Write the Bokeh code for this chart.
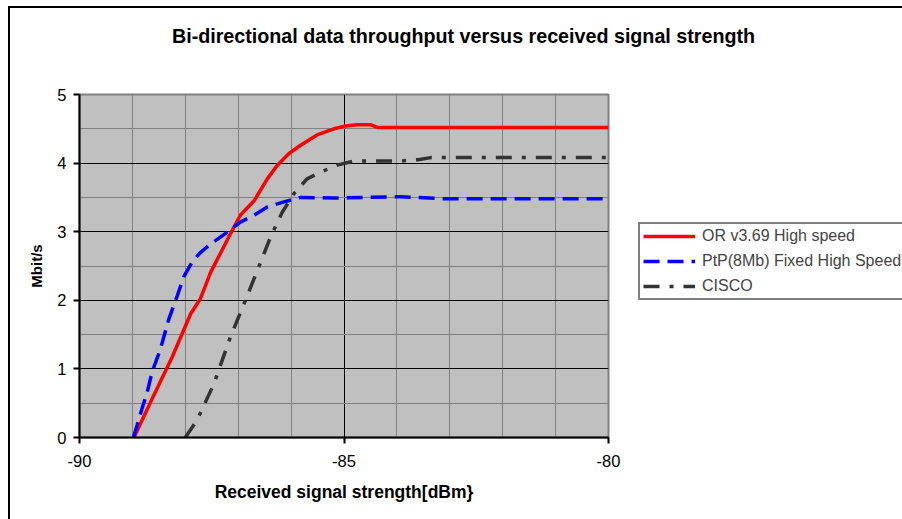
from bokeh.plotting import figure
from bokeh.models import (Legend, LegendItem, FixedTicker, Range1d, Label,
                          CustomJSTickFormatter)
from bokeh.layouts import row, column
from bokeh.embed import file_html
from bokeh.resources import INLINE

# ---- data ----
or_x = [-88.97, -88.66, -88.25, -87.90, -87.71, -87.52, -87.18, -86.96, -86.70,
        -86.45, -86.26, -86.04, -85.82, -85.51, -85.19, -84.97, -84.75, -84.50,
        -84.37, -80.0]
or_y = [0.0, 0.51, 1.17, 1.80, 2.03, 2.41, 2.92, 3.24, 3.45, 3.77, 3.97, 4.14,
        4.26, 4.41, 4.50, 4.54, 4.56, 4.56, 4.52, 4.52]

ptp_x = [-88.98, -88.81, -88.72, -88.63, -88.47, -88.31, -88.15, -88.03, -87.87,
         -87.71, -87.52, -87.21, -86.96, -86.70, -86.45, -86.20, -85.82, -85.19,
         -83.93, -83.12, -80.0]
ptp_y = [0.0, 0.44, 0.66, 0.95, 1.29, 1.73, 2.07, 2.34, 2.56, 2.70, 2.82, 2.99,
         3.14, 3.24, 3.36, 3.42, 3.50, 3.49, 3.51, 3.48, 3.48]

cisco_x = [-88.0, -87.78, -87.46, -87.15, -86.89, -86.64, -86.39, -86.17, -85.95,
           -85.70, -85.44, -85.13, -84.81, -83.93, -83.6, -83.36, -80.0]
cisco_y = [0.0, 0.25, 0.78, 1.46, 1.95, 2.43, 2.92, 3.28, 3.55, 3.77, 3.87, 3.97,
           4.03, 4.03, 4.05, 4.08, 4.08]

series_names = ["OR v3.69 High speed", "PtP(8Mb) Fixed High Speed", "CISCO"]
x_ticks = [-90, -85, -80]
y_ticks = [0, 1, 2, 3, 4, 5]
title_text = "Bi-directional data throughput versus received signal strength"
x_label = "Received signal strength[dBm}"
y_label = "Mbit/s"

FONT = "Liberation Sans"
RED, BLUE, GREY = "#FF0000", "#0000FF", "#333333"
styles = [dict(line_color=RED, line_width=3.5),
          dict(line_color=BLUE, line_width=3.5, line_dash="16 8"),
          dict(line_color=GREY, line_width=3.5, line_dash="16 10 4 10")]
series = [(or_x, or_y), (ptp_x, ptp_y), (cisco_x, cisco_y)]


def blank(width, height):
    f = figure(width=width, height=height, output_backend="svg",
               toolbar_location=None, x_axis_type=None, y_axis_type=None,
               x_range=Range1d(0, 1), y_range=Range1d(0, 1),
               min_border=0, min_border_left=0, min_border_right=0,
               min_border_top=0, min_border_bottom=0)
    f.outline_line_color = None
    f.background_fill_color = "white"
    f.border_fill_color = "white"
    f.grid.visible = False
    return f


# ---- title strip ----
TOP_H = 46
p_top = blank(892, TOP_H)
p_top.add_layout(Label(x=453, y=TOP_H - 27, x_units="screen", y_units="screen",
                       text=title_text, text_font=FONT, text_font_style="bold",
                       text_font_size="19.7px", text_align="center",
                       text_baseline="middle", text_color="black"))

# ---- main chart ----
MAIN_H = 511 - TOP_H
p = figure(width=620, height=MAIN_H, output_backend="svg", toolbar_location=None,
           x_range=Range1d(-90, -80), y_range=Range1d(0, 5),
           min_border_left=69, min_border_right=22, min_border_top=40,
           min_border_bottom=82)
p.background_fill_color = "#C0C0C0"
p.border_fill_color = "white"
p.outline_line_color = "#808080"
p.outline_line_width = 2

p.xaxis.ticker = FixedTicker(ticks=x_ticks, minor_ticks=list(range(-90, -79)))
p.yaxis.ticker = FixedTicker(ticks=y_ticks, minor_ticks=[i * 0.5 for i in range(11)])
p.xaxis.formatter = CustomJSTickFormatter(code="return String(tick)")
for ax in (p.xaxis, p.yaxis):
    ax.axis_line_color = "black"
    ax.axis_line_width = 2
    ax.major_tick_line_color = "black"
    ax.major_tick_line_width = 2
    ax.major_tick_out = 6
    ax.major_tick_in = 0
    ax.minor_tick_line_color = None
    ax.major_label_text_font = FONT
    ax.major_label_text_font_size = "16.5px"
    ax.major_label_text_color = "black"
    ax.axis_label_text_font = FONT
    ax.axis_label_text_font_style = "bold"
    ax.axis_label_text_color = "black"
p.xaxis.major_label_standoff = 11
p.yaxis.major_label_standoff = 7
p.xaxis.axis_label = x_label
p.xaxis.axis_label_text_font_size = "17.5px"
p.xaxis.axis_label_standoff = 12
p.yaxis.axis_label = y_label
p.yaxis.axis_label_text_font_size = "15px"
p.yaxis.axis_label_standoff = 9

for g in (p.xgrid, p.ygrid):
    g.grid_line_color = "black"
    g.grid_line_width = 1
    g.minor_grid_line_color = "#808080"
    g.minor_grid_line_width = 1

for (xs, ys), st in zip(series, styles):
    p.line(xs, ys, **st)

# ---- legend strip (its lines sit outside its own view; only the legend shows) ----
p_leg = blank(272, MAIN_H)
leg_renderers = [p_leg.line(xs, ys, **st) for (xs, ys), st in zip(series, styles)]
legend = Legend(items=[LegendItem(label=n, renderers=[r])
                       for n, r in zip(series_names, leg_renderers)],
                location=(8, 137), orientation="vertical",
                border_line_color="black", border_line_width=2,
                background_fill_color="white", background_fill_alpha=1,
                label_text_font=FONT, label_text_font_size="16px",
                glyph_width=52, glyph_height=18, label_height=18,
                label_standoff=7, spacing=7, padding=3, margin=0,
                label_width=200)
p_leg.add_layout(legend, "center")

layout = column(p_top, row(p, p_leg, spacing=0), spacing=0)
# outer chart border: only its top and left edges fall inside the picture
layout.margin = (6, 0, 0, 8)
layout.styles = {"border-top": "2px solid black", "border-left": "2px solid black"}

open("out.html", "w").write(file_html(layout, INLINE))
